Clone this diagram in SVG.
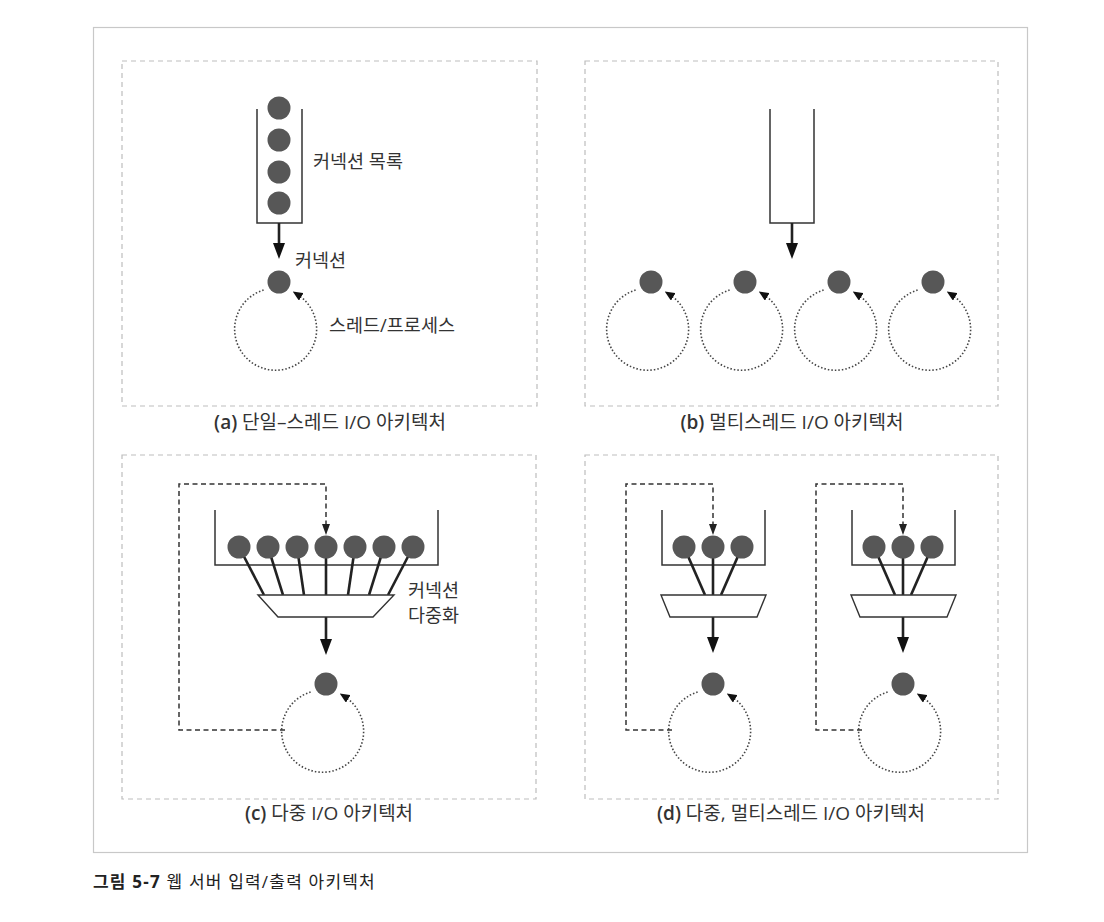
<svg xmlns="http://www.w3.org/2000/svg" width="1104" height="922" viewBox="0 0 1104 922">
<style>
.frame{fill:none;stroke:#c8c8c8;stroke-width:1.2}
.panel{fill:none;stroke:#bdbdbd;stroke-width:1.2;stroke-dasharray:5 4}
.wall{fill:none;stroke:#333;stroke-width:1.5}
.trap{fill:#fff;stroke:#333;stroke-width:1.4}
.ball{fill:#575757}
.spoke{stroke:#222;stroke-width:2.6}
.shaft{stroke:#222;stroke-width:2.6;marker-end:url(#arr)}
.loop{fill:none;stroke:#444;stroke-width:1.6;stroke-dasharray:1.5 2;marker-end:url(#arrs)}
.fb{fill:none;stroke:#333;stroke-width:1.5;stroke-dasharray:5 3.5;marker-end:url(#arrd)}
text{font-family:"Open Sans","Noto Sans CJK KR",sans-serif;fill:#333}
.lbl{font-size:18.5px}
.cap{font-size:19px;text-anchor:middle}
.fig{font-size:17px;fill:#222;letter-spacing:1.2px}
</style>
<defs>
<marker id="arr" viewBox="0 0 16 12" refX="6" refY="6" markerWidth="16" markerHeight="12" markerUnits="userSpaceOnUse" orient="auto"><path d="M0,0 L16,6 L0,12 z" fill="#111"/></marker>
<marker id="arrs" viewBox="0 0 10 9" refX="5" refY="4.5" markerWidth="10" markerHeight="9" markerUnits="userSpaceOnUse" orient="auto"><path d="M0,0 L10,4.5 L0,9 z" fill="#111"/></marker>
<marker id="arrd" viewBox="0 0 11 8" refX="3" refY="4" markerWidth="11" markerHeight="8" markerUnits="userSpaceOnUse" orient="auto"><path d="M0,0 L11,4 L0,8 z" fill="#222"/></marker>
</defs>
<rect class="frame" x="93.5" y="27.5" width="934" height="825"/>

<g id="panel-a">
<rect class="panel" x="122" y="61" width="415" height="345"/>
<path class="wall" d="M257,109 V223 H302 V109"/>
<circle class="ball" cx="279" cy="108" r="11.5"/>
<circle class="ball" cx="279" cy="140" r="11.5"/>
<circle class="ball" cx="279" cy="172" r="11.5"/>
<circle class="ball" cx="279" cy="203" r="11.5"/>
<text class="lbl" x="313" y="168">커넥션 목록</text>
<text class="lbl" x="295" y="267">커넥션</text>
<text class="lbl" x="329" y="332">스레드/프로세스</text>
<text class="cap" x="330" y="429"><tspan font-weight="600">(a)</tspan> 단일–스레드 I/O 아키텍처</text>
</g>

<g id="panel-b">
<rect class="panel" x="585" y="61" width="413" height="345"/>
<path class="wall" d="M770,109 V223 H814 V109"/>
<text class="cap" x="792" y="429"><tspan font-weight="600">(b)</tspan> 멀티스레드 I/O 아키텍처</text>
</g>

<g id="panel-c">
<rect class="panel" x="122" y="455" width="414" height="344"/>
<path class="wall" d="M215,510 V565 H438 V510"/>
<text class="lbl" x="408" y="597">커넥션</text>
<text class="lbl" x="408" y="622">다중화</text>
<text class="cap" x="329" y="820"><tspan font-weight="600">(c)</tspan> 다중 I/O 아키텍처</text>
</g>

<g id="panel-d">
<rect class="panel" x="585" y="455" width="413" height="344"/>
<path class="wall" d="M662,510 V565 H765 V510"/>
<path class="wall" d="M852,510 V565 H955 V510"/>
<text class="cap" x="791" y="820"><tspan font-weight="600">(d)</tspan> 다중, 멀티스레드 I/O 아키텍처</text>
</g>

<g id="connectors">
<line class="shaft" x1="279" y1="223" x2="279" y2="249"/>
<path class="loop" d="M263.6,290 A41,41 0 1 0 297,294.2"/>
<line class="shaft" x1="792" y1="223" x2="792" y2="249"/>
<path class="loop" d="M635.6,290 A41,41 0 1 0 669,294.2"/>
<path class="loop" d="M729.6,290 A41,41 0 1 0 763,294.2"/>
<path class="loop" d="M823.6,290 A41,41 0 1 0 857,294.2"/>
<path class="loop" d="M917.6,290 A41,41 0 1 0 951,294.2"/>
<line class="spoke" x1="239" y1="547" x2="264" y2="595"/>
<line class="spoke" x1="268" y1="547" x2="283" y2="595"/>
<line class="spoke" x1="297" y1="547" x2="304" y2="595"/>
<line class="spoke" x1="326" y1="547" x2="326" y2="595"/>
<line class="spoke" x1="355" y1="547" x2="348" y2="595"/>
<line class="spoke" x1="384" y1="547" x2="369" y2="595"/>
<line class="spoke" x1="413" y1="547" x2="388" y2="595"/>
<line class="shaft" x1="326" y1="617" x2="326" y2="645"/>
<path class="loop" d="M310.6,692 A41,41 0 1 0 344,696.2"/>
<path class="fb" d="M285,730 H179 V484 H326 V527"/>
<line class="spoke" x1="684" y1="547" x2="705" y2="595"/>
<line class="spoke" x1="713" y1="547" x2="713" y2="595"/>
<line class="spoke" x1="742" y1="547" x2="721" y2="595"/>
<line class="shaft" x1="713" y1="617" x2="713" y2="643"/>
<path class="loop" d="M697.6,692 A41,41 0 1 0 731,696.2"/>
<path class="fb" d="M672,730 H626 V484 H713 V527"/>
<line class="spoke" x1="874" y1="547" x2="895" y2="595"/>
<line class="spoke" x1="903" y1="547" x2="903" y2="595"/>
<line class="spoke" x1="932" y1="547" x2="911" y2="595"/>
<line class="shaft" x1="903" y1="617" x2="903" y2="643"/>
<path class="loop" d="M887.6,692 A41,41 0 1 0 921,696.2"/>
<path class="fb" d="M862,730 H816 V484 H903 V527"/>
</g>

<g id="mux-c">
<polygon class="trap" points="258,595 394,595 373,617 278,617"/>
</g>
<g id="mux-d1">
<polygon class="trap" points="661,595 766,595 757,617 670,617"/>
</g>
<g id="mux-d2">
<polygon class="trap" points="851,595 956,595 947,617 860,617"/>
</g>

<g id="balls">
<circle class="ball" cx="279" cy="282" r="11.5"/>
<circle class="ball" cx="651" cy="282" r="11.5"/>
<circle class="ball" cx="745" cy="282" r="11.5"/>
<circle class="ball" cx="839" cy="282" r="11.5"/>
<circle class="ball" cx="933" cy="282" r="11.5"/>
<circle class="ball" cx="239" cy="547" r="11.5"/>
<circle class="ball" cx="268" cy="547" r="11.5"/>
<circle class="ball" cx="297" cy="547" r="11.5"/>
<circle class="ball" cx="326" cy="547" r="11.5"/>
<circle class="ball" cx="355" cy="547" r="11.5"/>
<circle class="ball" cx="384" cy="547" r="11.5"/>
<circle class="ball" cx="413" cy="547" r="11.5"/>
<circle class="ball" cx="326" cy="684" r="11.5"/>
<circle class="ball" cx="684" cy="547" r="11.5"/>
<circle class="ball" cx="713" cy="547" r="11.5"/>
<circle class="ball" cx="742" cy="547" r="11.5"/>
<circle class="ball" cx="713" cy="684" r="11.5"/>
<circle class="ball" cx="874" cy="547" r="11.5"/>
<circle class="ball" cx="903" cy="547" r="11.5"/>
<circle class="ball" cx="932" cy="547" r="11.5"/>
<circle class="ball" cx="903" cy="684" r="11.5"/>
</g>

<g id="figure-caption">
<text class="fig" x="93" y="888"><tspan font-weight="bold">그림 5-7</tspan> 웹 서버 입력/출력 아키텍처</text>
</g>
</svg>
